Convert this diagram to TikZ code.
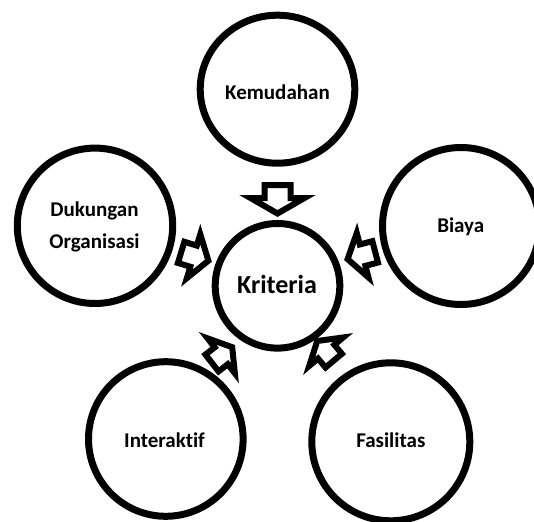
\documentclass[tikz,border=0pt]{standalone}
\usepackage{fontspec}
\setmainfont[Ligatures={NoCommon,NoContextual}]{Carlito}
\usetikzlibrary{shapes.geometric}
\tikzset{
  ring/.style={draw=black, line width=7pt, fill=white, inner sep=0pt},
  lbl/.style={font=\bfseries\fontsize{21}{25}\selectfont, anchor=base, inner sep=0pt},
  biglbl/.style={font=\bfseries\fontsize{26}{31}\selectfont, anchor=base, inner sep=0pt},
  arrowline/.style={draw=black, fill=white, line width=6pt, line join=miter},
  blockarrow/.pic={\path[arrowline] (0,0) -- (-15.5,27) -- (-15.5,13) -- (-28.5,13) -- (-28.5,-13) -- (-15.5,-13) -- (-15.5,-27) -- cycle;}
}
\begin{document}
\begin{tikzpicture}[x=1pt,y=-1pt]
\useasboundingbox (0,0) rectangle (534,521);
% circles
\node[ring, ellipse, minimum width=154.6pt, minimum height=148pt] (kem) at (277.5,89.2) {};
\node[ring, circle, minimum size=155.4pt] (duk) at (95,225.8) {};
\node[ring, circle, minimum size=157pt] (bia) at (461,226) {};
\node[ring, circle, minimum size=154.6pt] (int) at (165.8,439) {};
\node[ring, circle, minimum size=158pt] (fas) at (390.8,441.8) {};
\node[ring, circle, minimum size=124.6pt] (kri) at (277.5,285.8) {};
% labels
\node[lbl] (tkem) at (277.5,100) {Kemudahan};
\node[lbl] (tduk1) at (94.5,216.7) {Dukungan};
\node[lbl] (tduk2) at (94.5,248.3) {Organisasi};
\node[lbl] (tbia) at (460.7,232.7) {Biaya};
\node[biglbl] (tkri) at (277,293.3) {Kriteria};
\node[lbl] (tint) at (164.5,447.3) {Interak{}t{}if};
\node[lbl] (tfas) at (390.8,447.3) {Fasilit{}as};
% block arrows
\pic[rotate=-90] (akem) at (277.5,213.5) {blockarrow};
\pic[rotate=-17, yscale=0.85] (aduk) at (208.4,260.7) {blockarrow};
\pic[rotate=-165.3, yscale=0.85] (abia) at (347.6,259.1) {blockarrow};
\pic[rotate=38, xscale=0.9, yscale=0.82] (aint) at (232.2,347.2) {blockarrow};
\pic[rotate=130, xscale=0.9, yscale=0.82] (afas) at (317.2,341) {blockarrow};
\end{tikzpicture}
\end{document}
